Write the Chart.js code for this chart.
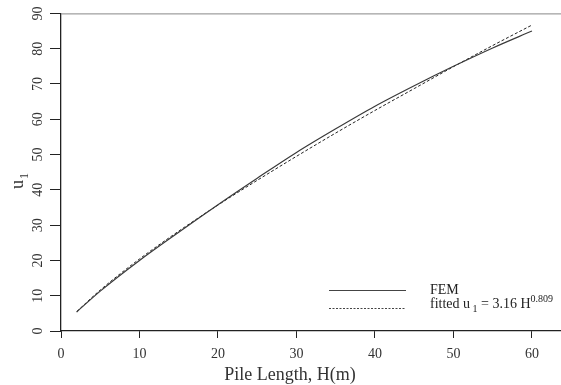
<!DOCTYPE html>
<html><head><meta charset="utf-8">
<script src="https://cdn.jsdelivr.net/npm/chart.js@4/dist/chart.umd.min.js"></script>
<style>html,body{margin:0;padding:0;background:#fff}#wrap{width:561px;height:385px}</style>
</head><body><div id="wrap"><canvas id="c" width="561" height="385"></canvas></div>
<script>
const H = [2, 5, 10, 15, 20, 25, 30, 35, 40, 45, 50, 55, 60];
const femU = [5.4, 11.3, 20.0, 28.0, 35.8, 43.3, 50.6, 57.3, 63.7, 69.5, 75.0, 80.2, 85.0];
const fittedU = [5.5, 11.6, 20.4, 28.3, 35.7, 42.7, 49.5, 56.1, 62.5, 68.7, 74.9, 80.9, 86.7];
const xTicks = [0, 10, 20, 30, 40, 50, 60];
const yTicks = [0, 10, 20, 30, 40, 50, 60, 70, 80, 90];
const xTitle = 'Pile Length, H(m)';
const legendNames = ['FEM', 'fitted'];

const SERIF = '"Liberation Serif", "Times New Roman", serif';
const txt = '#333';

const pts = (ys) => H.map((h, i) => ({x: h, y: ys[i]}));

const decor = {
  id: 'decor',
  afterDraw(chart) {
    const ctx = chart.ctx, a = chart.chartArea;
    ctx.save();
    // top frame line
    ctx.strokeStyle = '#888'; ctx.lineWidth = 1;
    ctx.beginPath(); ctx.moveTo(a.left, a.top + 0.5); ctx.lineTo(chart.width, a.top + 0.5); ctx.stroke();
    // x title
    ctx.fillStyle = txt;
    ctx.font = '18px ' + SERIF;
    ctx.textAlign = 'center'; ctx.textBaseline = 'alphabetic';
    ctx.fillText(xTitle, 290, 380);
    // y title u1 rotated
    ctx.save();
    ctx.translate(23, 189);
    ctx.rotate(-Math.PI / 2);
    ctx.textAlign = 'left';
    ctx.font = '18px ' + SERIF;
    ctx.fillText('u', 0, 0);
    const uw = ctx.measureText('u').width;
    ctx.font = '12px ' + SERIF;
    ctx.fillText('1', uw + 1, 5);
    ctx.restore();
    // legend
    ctx.strokeStyle = '#444'; ctx.lineWidth = 1.1;
    ctx.beginPath(); ctx.moveTo(329, 290.5); ctx.lineTo(406, 290.5); ctx.stroke();
    ctx.setLineDash([2, 1.5]); ctx.lineWidth = 1;
    ctx.beginPath(); ctx.moveTo(329, 308.5); ctx.lineTo(406, 308.5); ctx.stroke();
    ctx.setLineDash([]);
    ctx.textAlign = 'left';
    ctx.font = '14px ' + SERIF;
    ctx.fillStyle = '#222';
    ctx.fillText(legendNames[0], 430, 294);
    let x = 430;
    const seg = (s, font, dy) => { ctx.font = font; ctx.fillText(s, x, dy); x += ctx.measureText(s).width; };
    seg(legendNames[1] + ' u', '14px ' + SERIF, 308);
    seg(' 1', '10px ' + SERIF, 312);
    seg(' = 3.16 H', '14px ' + SERIF, 308);
    seg('0.809', '10px ' + SERIF, 302);
    ctx.restore();
  }
};

new Chart(document.getElementById('c'), {
  type: 'line',
  data: {
    datasets: [
      {label: legendNames[0], data: pts(femU), borderColor: '#3a3a3a', borderWidth: 1.2,
       pointRadius: 0, cubicInterpolationMode: 'monotone', fill: false},
      {label: legendNames[1], data: pts(fittedU), borderColor: '#222', borderWidth: 1,
       borderDash: [3, 2], pointRadius: 0, cubicInterpolationMode: 'monotone', fill: false}
    ]
  },
  options: {
    responsive: false, animation: false, devicePixelRatio: 1,
    layout: {padding: {top: 11, left: 0, right: 0, bottom: 0}},
    plugins: {legend: {display: false}, tooltip: {enabled: false}},
    scales: {
      x: {
        type: 'linear', min: 0, max: 63.7,
        afterBuildTicks: (s) => { s.ticks = xTicks.map(v => ({value: v})); },
        afterFit: (s) => { s.height = 54; },
        grid: {drawOnChartArea: false, drawTicks: true, tickLength: 7, color: '#222', lineWidth: 1},
        border: {display: true, color: '#222', width: 1.2},
        ticks: {color: txt, font: {family: SERIF, size: 14}, padding: 8, maxRotation: 0, autoSkip: false}
      },
      y: {
        type: 'linear', min: 0, max: 90,
        afterBuildTicks: (s) => { s.ticks = yTicks.map(v => ({value: v})); },
        afterFit: (s) => { s.width = 61; },
        grid: {drawOnChartArea: false, drawTicks: true, tickLength: 11, color: '#222', lineWidth: 1},
        border: {display: true, color: '#222', width: 1.3},
        ticks: {color: txt, font: {family: SERIF, size: 14}, padding: 5, minRotation: 90, maxRotation: 90,
                crossAlign: 'center', autoSkip: false}
      }
    }
  },
  plugins: [decor]
});
</script>
</body></html>
